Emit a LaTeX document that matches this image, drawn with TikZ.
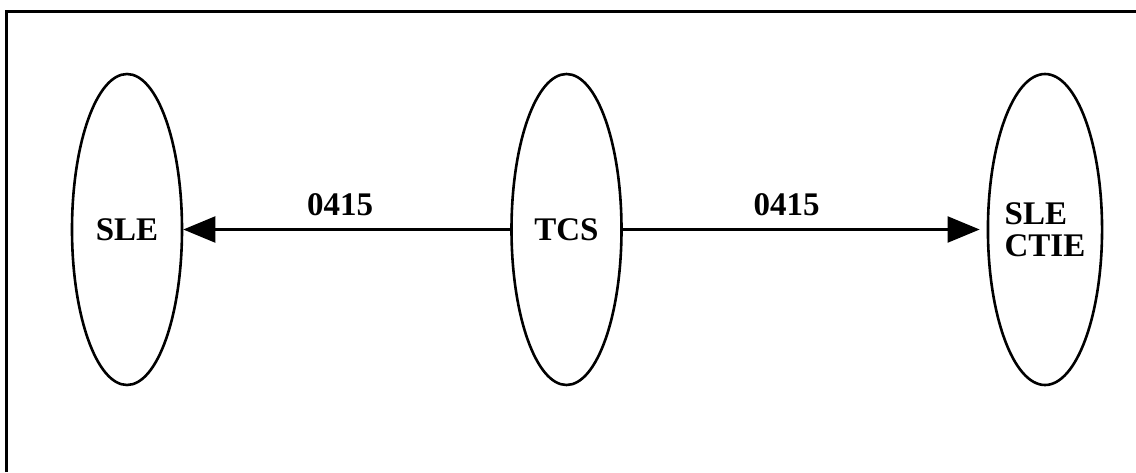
\documentclass[tikz,border=0pt]{standalone}
\usepackage{fontspec}
\setmainfont{Liberation Serif}
\usetikzlibrary{shapes.geometric, arrows.meta}

\begin{document}
\begin{tikzpicture}[
                x=1pt, y=-1pt,
                elipse/.style={shape=ellipse, draw=black, line width=2.6pt, minimum width=110pt, minimum height=311pt, inner sep=0pt, font=\fontsize{33}{32}\selectfont\bfseries},
                seta/.style={line width=2.1pt, -{Triangle[length=32pt, width=26pt]}},
                rotulo/.style={font=\fontsize{33}{32}\selectfont\bfseries, inner sep=0pt, above=13pt},
            ]
            \useasboundingbox (0, 0) rectangle (1136, 472);
            \draw[line width=3pt] (6.5, 472) -- (6.5, 11) -- (1136, 11);
            \node[elipse] (sle) at (127, 229.5) {SLE};
            \node[elipse] (tcs) at (566.5, 229.5) {TCS};
            \node[elipse, align=left] (ctie) at (1045, 229.5) {SLE\\CTIE};
            \draw[seta] (tcs) -- node[rotulo, pos=0.52] {0415} (sle);
            \draw[seta, shorten >=7pt] (tcs) -- node[rotulo, pos=0.45] {0415} (ctie);
        \end{tikzpicture}
\end{document}
